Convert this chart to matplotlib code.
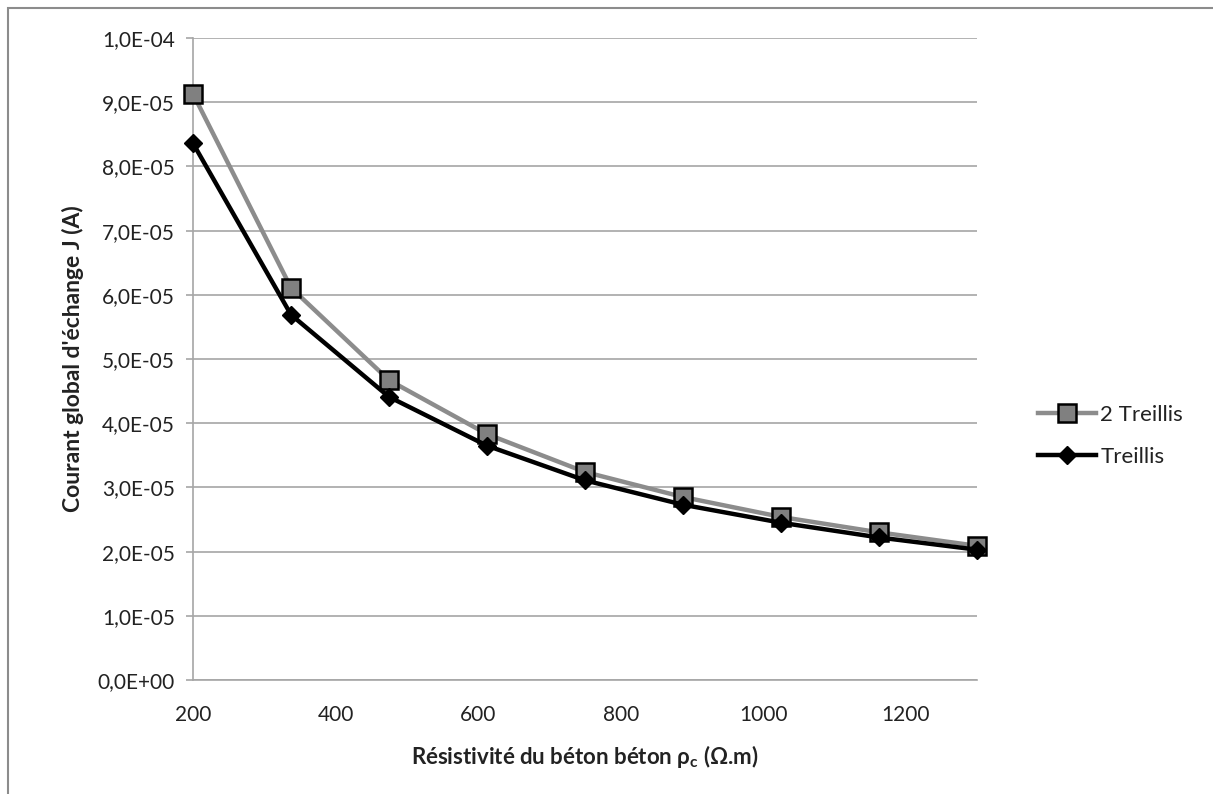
import matplotlib
matplotlib.use("Agg")
import matplotlib.pyplot as plt
from matplotlib.ticker import FuncFormatter, MultipleLocator
from matplotlib.patches import Rectangle

resistivity = [200, 337.5, 475, 612.5, 750, 887.5, 1025, 1162.5, 1300]
deux_treillis = [9.13e-5, 6.11e-5, 4.67e-5, 3.83e-5, 3.24e-5, 2.85e-5, 2.54e-5, 2.30e-5, 2.09e-5]
treillis = [8.36e-5, 5.69e-5, 4.41e-5, 3.65e-5, 3.11e-5, 2.73e-5, 2.45e-5, 2.22e-5, 2.03e-5]
series_labels = ["2 Treillis", "Treillis"]
x_ticks = [200, 400, 600, 800, 1000, 1200]

plt.rcParams['font.family'] = ['Lato', 'DejaVu Sans']
plt.rcParams['mathtext.fontset'] = 'custom'
plt.rcParams['mathtext.rm'] = 'Lato'
plt.rcParams['mathtext.bf'] = 'Lato:bold'

W, H = 1213, 794
fig = plt.figure(figsize=(W / 100, H / 100), dpi=100)
ax = fig.add_axes([193 / W, 1 - 680 / H, (977 - 193) / W, (680 - 38) / H])

# outer chart border
fig.patches.append(Rectangle((8 / W, -0.01), 1.2, 1 - 8 / H + 0.01, transform=fig.transFigure,
                             fill=False, edgecolor='#8c8c8c', linewidth=1.5))

ax.plot(resistivity, deux_treillis, color='#8c8c8c', linewidth=3.2, marker='s',
        markersize=13, markerfacecolor='#808080', markeredgecolor='black',
        markeredgewidth=1.8, label=series_labels[0], zorder=3, clip_on=False)
ax.plot(resistivity, treillis, color='black', linewidth=3.2, marker='D',
        markersize=9, markerfacecolor='black', markeredgecolor='black',
        label=series_labels[1], zorder=4, clip_on=False)

ax.set_xlim(200, 1300)
ax.set_ylim(0, 1.0e-4)
ax.set_xticks(x_ticks)
ax.yaxis.set_major_locator(MultipleLocator(1e-5))
ax.yaxis.set_major_formatter(FuncFormatter(lambda v, p: f"{v:.1E}".replace('.', ',')))

ax.grid(axis='y', color='#a6a6a6', linewidth=1.2)
ax.set_axisbelow(True)
for s in ['top', 'right']:
    ax.spines[s].set_visible(False)
for s in ['left', 'bottom']:
    ax.spines[s].set_color('#a6a6a6')
    ax.spines[s].set_linewidth(1.2)

ax.tick_params(axis='y', colors='#a6a6a6', labelcolor='#222222', labelsize=15,
               length=5, width=1.2, pad=8)
ax.tick_params(axis='x', colors='#a6a6a6', labelcolor='#222222', labelsize=15,
               length=0, pad=18)

ax.set_xlabel(r"Résistivité du béton béton ρ$_\mathbf{c}$ (Ω.m)", fontsize=16,
              fontweight='bold', color='#222222', labelpad=13)
ax.set_ylabel("Courant global d'échange J (A)", fontsize=16.5, fontweight='bold',
              color='#222222', labelpad=10)

leg = fig.legend(loc='center left', bbox_to_anchor=(1018 / W, 1 - 436 / H),
                 frameon=False, fontsize=16, handlelength=2.6, labelspacing=1.0,
                 handletextpad=0.2)
for t in leg.get_texts():
    t.set_color('#222222')

fig.savefig("out.png", dpi=100)
